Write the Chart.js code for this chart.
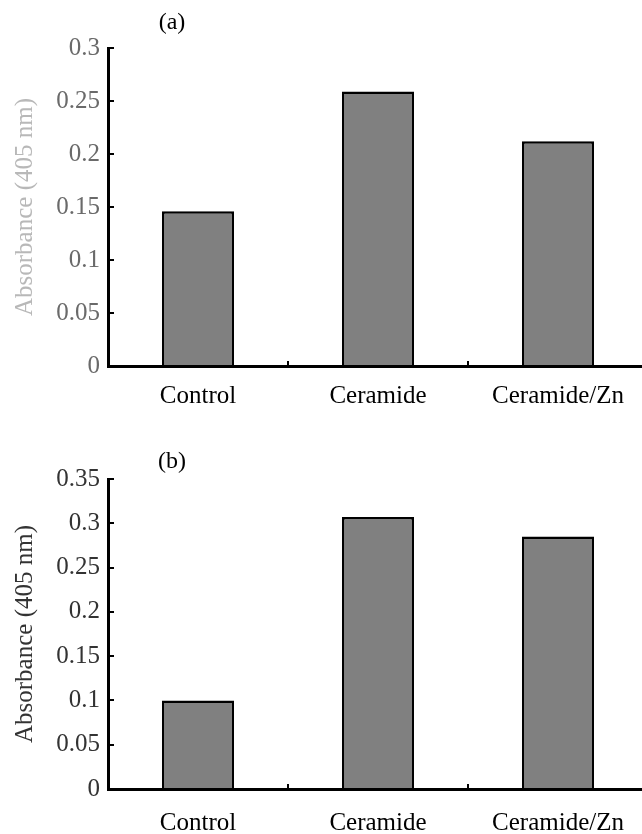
<!DOCTYPE html>
<html>
<head>
<meta charset="utf-8">
<script src="https://cdn.jsdelivr.net/npm/chart.js@4"></script>
<style>
  html, body { margin: 0; padding: 0; background: #fff; overflow: hidden; }
  canvas { display: block; }
</style>
</head>
<body>
<canvas id="chartA" width="660" height="417"></canvas>
<canvas id="chartB" width="660" height="417"></canvas>
<script>
// values
const categories = ['Control', 'Ceramide', 'Ceramide/Zn'];
const valuesA = [0.146, 0.259, 0.212];
const valuesB = [0.100, 0.307, 0.285];
const ticksA = ['0', '0.05', '0.1', '0.15', '0.2', '0.25', '0.3'];
const ticksB = ['0', '0.05', '0.1', '0.15', '0.2', '0.25', '0.3', '0.35'];
const yTitle = 'Absorbance (405 nm)';

Chart.defaults.font.family = '"Liberation Serif", "Times New Roman", serif';
Chart.defaults.font.size = 25;
Chart.defaults.color = '#000';

// small "(a)" / "(b)" tag over the plot
const panelTag = {
    id: 'panelTag',
    afterDraw(chart, args, opts) {
        const ctx = chart.ctx;
        ctx.save();
        ctx.font = '24px "Liberation Serif", serif';
        ctx.fillStyle = opts.color || '#000';
        ctx.textAlign = 'center';
        ctx.textBaseline = 'middle';
        ctx.fillText(opts.text, chart.chartArea.left + opts.dx, opts.y);
        ctx.restore();
    }
};

function makeChart(id, values, tickLabels, cfg) {
    return new Chart(document.getElementById(id), {
        type: 'bar',
        data: {
            labels: categories,
            datasets: [{
                data: values,
                backgroundColor: '#808080',
                borderColor: '#000',
                borderWidth: 2.5,
                categoryPercentage: 0.4,
                barPercentage: 1
            }]
        },
        plugins: [panelTag],
        options: {
            responsive: false,
            animation: false,
            layout: { padding: { top: cfg.top, right: 12, left: 0, bottom: 0 } },
            plugins: {
                legend: { display: false },
                tooltip: { enabled: false },
                panelTag: { text: cfg.tag, dx: 64, y: cfg.tagY, color: '#000' }
            },
            scales: {
                x: {
                    afterFit: s => { s.height = cfg.xHeight; },
                    grid: { drawOnChartArea: false, offset: true, tickLength: -5, color: '#000', lineWidth: 2 },
                    border: { color: '#000', width: 3 },
                    ticks: { padding: cfg.xPad, color: '#000', maxRotation: 0 }
                },
                y: {
                    min: 0,
                    max: cfg.max,
                    afterFit: s => { s.width = 108; },
                    afterBuildTicks: s => {
                        s.ticks = tickLabels.map((t, i) => ({ value: i * 0.05 }));
                    },
                    grid: { drawOnChartArea: false, tickLength: -6, color: '#000', lineWidth: 2 },
                    border: { color: '#000', width: 3 },
                    ticks: {
                        padding: 14,
                        color: cfg.tickColor,
                        callback: (v, i) => tickLabels[i]
                    },
                    title: {
                        display: true,
                        text: yTitle,
                        color: cfg.titleColor,
                        padding: { top: 10, bottom: 4 }
                    }
                }
            }
        }
    });
}

makeChart('chartA', valuesA, ticksA, {
    max: 0.3, top: 48, xHeight: 51, xPad: 20, tag: '(a)', tagY: 23,
    tickColor: '#6a6a6a', titleColor: '#b8b8b8'
});
makeChart('chartB', valuesB, ticksB, {
    max: 0.35, top: 62, xHeight: 45, xPad: 24, tag: '(b)', tagY: 45,
    tickColor: '#333', titleColor: '#333'
});
</script>
</body>
</html>
